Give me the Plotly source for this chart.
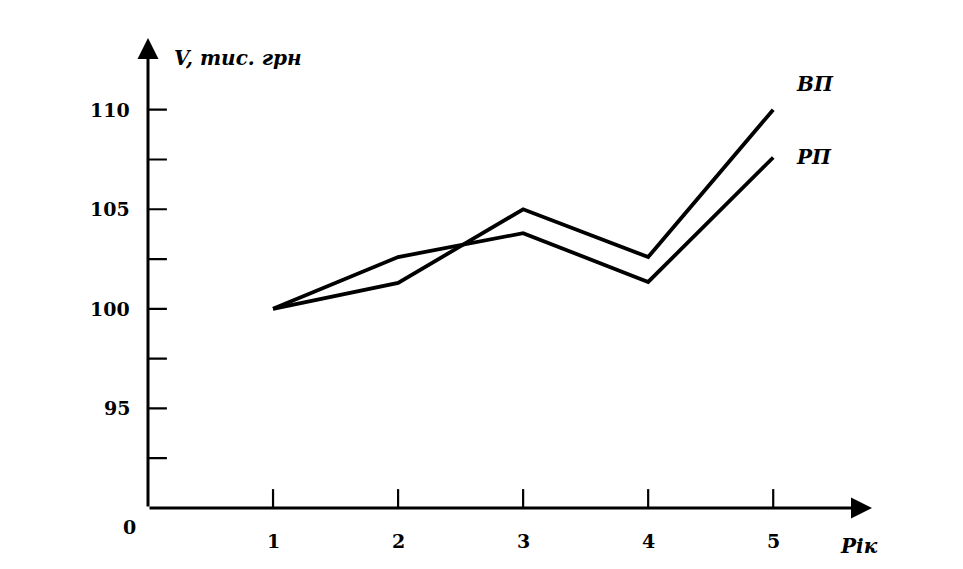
import plotly.graph_objects as go

years = [1, 2, 3, 4, 5]
vp = [100, 101.3, 105, 102.6, 110]
rp = [100, 102.6, 103.8, 101.35, 107.6]
y_ticks = [92.5, 95, 97.5, 100, 102.5, 105, 107.5, 110]
y_labels = [95, 100, 105, 110]
x_labels = ["1", "2", "3", "4", "5"]

X_MAX = 5.79
Y_MIN = 90
Y_MAX = 113.6
SERIF = "DejaVu Serif"

fig = go.Figure()
for ys in (vp, rp):
    fig.add_trace(go.Scatter(x=years, y=ys, mode="lines",
                             line=dict(color="black", width=3.8),
                             showlegend=False, hoverinfo="skip"))

# crossing ticks on x axis
fig.add_trace(go.Scatter(x=years, y=[Y_MIN] * len(years), mode="markers",
                         marker=dict(symbol="line-ns", size=27,
                                     line=dict(width=2.2, color="black")),
                         showlegend=False, hoverinfo="skip"))
# crossing ticks on y axis
fig.add_trace(go.Scatter(x=[0] * len(y_ticks), y=y_ticks, mode="markers",
                         marker=dict(symbol="line-ew", size=27,
                                     line=dict(width=2.2, color="black")),
                         showlegend=False, hoverinfo="skip"))

# axes with arrows
fig.add_annotation(x=X_MAX, y=Y_MIN, ax=0, ay=Y_MIN, xref="x", yref="y",
                   axref="x", ayref="y", text="", showarrow=True,
                   arrowhead=2, arrowsize=1.4, arrowwidth=3, arrowcolor="black")
fig.add_annotation(x=0, y=Y_MAX, ax=0, ay=Y_MIN, xref="x", yref="y",
                   axref="x", ayref="y", text="", showarrow=True,
                   arrowhead=2, arrowsize=1.4, arrowwidth=3, arrowcolor="black")

num_font = dict(family=SERIF, size=19, color="black", weight="bold")
for v in y_labels:
    fig.add_annotation(x=0, y=v, xref="x", yref="y", text=str(v),
                       showarrow=False, xanchor="right", xshift=-16,
                       font=num_font)
for xv, lab in zip(years, x_labels):
    fig.add_annotation(x=xv, y=Y_MIN, xref="x", yref="y", text=lab,
                       showarrow=False, yanchor="top", yshift=-20,
                       font=num_font)
fig.add_annotation(x=0, y=Y_MIN, xref="x", yref="y", text="0",
                   showarrow=False, xanchor="right", yanchor="top",
                   xshift=-10, yshift=-6, font=num_font)

it_font = dict(family=SERIF, size=20, color="black", weight="bold",
               style="italic")
fig.add_annotation(x=0, y=Y_MAX, xref="x", yref="y",
                   text="V, тис. грн", showarrow=False,
                   xanchor="left", yanchor="middle", xshift=24, yshift=-20,
                   font=it_font)
fig.add_annotation(x=5, y=vp[-1], xref="x", yref="y", text="ВП",
                   showarrow=False, xanchor="left", xshift=21, yshift=26,
                   font=it_font)
fig.add_annotation(x=5, y=rp[-1], xref="x", yref="y", text="РП",
                   showarrow=False, xanchor="left", xshift=21, yshift=0,
                   font=it_font)
fig.add_annotation(x=X_MAX, y=Y_MIN, xref="x", yref="y", text="Рік",
                   showarrow=False, xanchor="right", yanchor="top",
                   xshift=8, yshift=-24, font=it_font)

fig.update_xaxes(range=[0, X_MAX], visible=False, fixedrange=True)
fig.update_yaxes(range=[Y_MIN, Y_MAX], visible=False, fixedrange=True)
fig.update_layout(width=955, height=561,
                  margin=dict(l=140, r=91, t=30, b=61),
                  paper_bgcolor="white", plot_bgcolor="white")

fig.write_html("out.html")
